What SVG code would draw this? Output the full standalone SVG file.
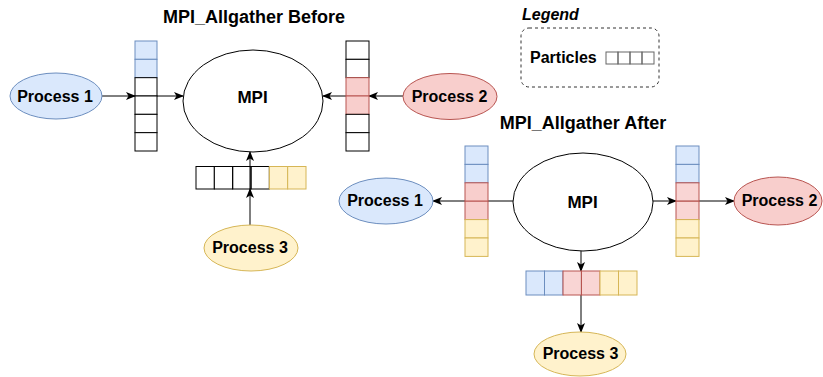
<svg xmlns="http://www.w3.org/2000/svg" width="823" height="377" viewBox="0 0 823 377">
<style>
text{font-family:"Liberation Sans",Arial,sans-serif;font-weight:bold;fill:#000;text-anchor:middle}
.t{font-size:18px}
.p{font-size:16px}
.m{font-size:17px}
.c{fill:#fff;stroke:#000;stroke-width:1}
.b{fill:#dae8fc;stroke:#6c8ebf;stroke-width:1}
.r{fill:#f8cecc;stroke:#b85450;stroke-width:1}
.y{fill:#fff2cc;stroke:#d6b656;stroke-width:1}
.e{fill:#fff;stroke:#000;stroke-width:1}
.ln{stroke:#000;stroke-width:1;fill:none;marker-end:url(#ah)}
.lg{fill:none;stroke:#666;stroke-width:1}
</style>
<defs>
<marker id="ah" viewBox="0 0 10 8" refX="9" refY="4" markerWidth="10" markerHeight="8" markerUnits="userSpaceOnUse" orient="auto">
<path d="M0,0 L10,4 L0,8 L2.5,4 z" fill="#000"/>
</marker>
</defs>

<text class="t" x="254" y="23">MPI_Allgather Before</text>
<text class="t" x="583" y="129">MPI_Allgather After</text>

<g id="legend">
<text x="522" y="20" style="font-size:16px;font-style:italic;text-anchor:start">Legend</text>
<rect x="521" y="28" width="138" height="59" rx="8" fill="none" stroke="#333" stroke-width="1" stroke-dasharray="3,3"/>
<text x="530" y="63" style="font-size:16px;text-anchor:start">Particles</text>
<rect class="lg" x="606" y="52" width="12" height="12"/>
<rect class="lg" x="618" y="52" width="12" height="12"/>
<rect class="lg" x="630" y="52" width="12" height="12"/>
<rect class="lg" x="642" y="52" width="12" height="12"/>
</g>

<g id="connectors">
<line class="ln" x1="102" y1="96" x2="135" y2="96"/>
<line class="ln" x1="135" y1="96" x2="183" y2="96"/>
<line class="ln" x1="403" y1="96" x2="369" y2="96"/>
<line class="ln" x1="369" y1="96" x2="323" y2="96"/>
<line class="ln" x1="250" y1="225" x2="250" y2="189"/>
<line class="ln" x1="250" y1="189" x2="250" y2="152"/>
<line class="ln" x1="513" y1="201" x2="433" y2="201"/>
<line class="ln" x1="653" y1="201" x2="676" y2="201"/>
<line class="ln" x1="676" y1="201" x2="734" y2="201"/>
<line class="ln" x1="581" y1="251" x2="581" y2="271"/>
<line class="ln" x1="581" y1="271" x2="581" y2="332"/>
</g>

<g id="before-mpi">
<ellipse class="e" cx="253" cy="101" rx="70" ry="51" fill="none"/>
<text class="m" x="252.5" y="103">MPI</text>
</g>

<g id="before-p1">
<ellipse class="b" cx="56" cy="96" rx="46" ry="23"/>
<text class="p" x="55" y="101.7">Process 1</text>
</g>
<g id="before-p2">
<ellipse class="r" cx="450" cy="96.5" rx="47" ry="23"/>
<text class="p" x="449.5" y="101.7">Process 2</text>
</g>
<g id="before-p3">
<ellipse class="y" cx="251" cy="248" rx="47" ry="23"/>
<text class="p" x="250" y="253.3">Process 3</text>
</g>

<g id="before-array1">
<rect class="b" x="135" y="41" width="22" height="18.33"/>
<rect class="b" x="135" y="59.33" width="22" height="18.33"/>
<rect class="c" x="135" y="77.67" width="22" height="18.33" fill="none"/>
<rect class="c" x="135" y="96" width="22" height="18.33" fill="none"/>
<rect class="c" x="135" y="114.33" width="22" height="18.33"/>
<rect class="c" x="135" y="132.67" width="22" height="18.33"/>
</g>
<g id="before-array2">
<rect class="c" x="346" y="41" width="23" height="18.33"/>
<rect class="c" x="346" y="59.33" width="23" height="18.33"/>
<rect class="r" x="346" y="77.67" width="23" height="18.33"/>
<rect class="r" x="346" y="96" width="23" height="18.33"/>
<rect class="c" x="346" y="114.33" width="23" height="18.33"/>
<rect class="c" x="346" y="132.67" width="23" height="18.33"/>
</g>
<g id="before-array3">
<rect class="c" x="196" y="166.5" width="18.33" height="22.5"/>
<rect class="c" x="214.33" y="166.5" width="18.33" height="22.5"/>
<rect class="c" x="232.67" y="166.5" width="18.33" height="22.5" style="fill:none"/>
<rect class="c" x="251" y="166.5" width="18.33" height="22.5" style="fill:none"/>
<rect class="y" x="269.33" y="166.5" width="18.33" height="22.5"/>
<rect class="y" x="287.67" y="166.5" width="18.33" height="22.5"/>
</g>

<g id="after-mpi">
<ellipse class="e" cx="583" cy="202" rx="70" ry="49"/>
<text class="m" x="582.5" y="208">MPI</text>
</g>
<g id="after-p1">
<ellipse class="b" cx="386" cy="201" rx="47" ry="23"/>
<text class="p" x="385" y="206">Process 1</text>
</g>
<g id="after-p2">
<ellipse class="r" cx="778" cy="201" rx="44" ry="24"/>
<text class="p" x="779.5" y="206">Process 2</text>
</g>
<g id="after-p3">
<ellipse class="y" cx="580" cy="354" rx="46" ry="22"/>
<text class="p" x="580.5" y="359">Process 3</text>
</g>

<g id="after-array1">
<rect class="b" x="465" y="146" width="23" height="18.4"/>
<rect class="b" x="465" y="164.4" width="23" height="18.4"/>
<rect class="r" x="465" y="182.8" width="23" height="18.4"/>
<rect class="r" x="465" y="201.2" width="23" height="18.4"/>
<rect class="y" x="465" y="219.6" width="23" height="18.4"/>
<rect class="y" x="465" y="238" width="23" height="18.4"/>
</g>
<g id="after-array2">
<rect class="b" x="676" y="146" width="23" height="18.4"/>
<rect class="b" x="676" y="164.4" width="23" height="18.4"/>
<rect class="r" x="676" y="182.8" width="23" height="18.4" style="fill-opacity:0.85"/>
<rect class="r" x="676" y="201.2" width="23" height="18.4" style="fill-opacity:0.85"/>
<rect class="y" x="676" y="219.6" width="23" height="18.4"/>
<rect class="y" x="676" y="238" width="23" height="18.4"/>
</g>
<g id="after-array3">
<rect class="b" x="526" y="271" width="18.5" height="24"/>
<rect class="b" x="544.5" y="271" width="18.5" height="24"/>
<rect class="r" x="563" y="271" width="18.5" height="24" style="fill-opacity:0.85"/>
<rect class="r" x="581.5" y="271" width="18.5" height="24" style="fill-opacity:0.85"/>
<rect class="y" x="600" y="271" width="18.5" height="24"/>
<rect class="y" x="618.5" y="271" width="18.5" height="24"/>
</g>
</svg>
